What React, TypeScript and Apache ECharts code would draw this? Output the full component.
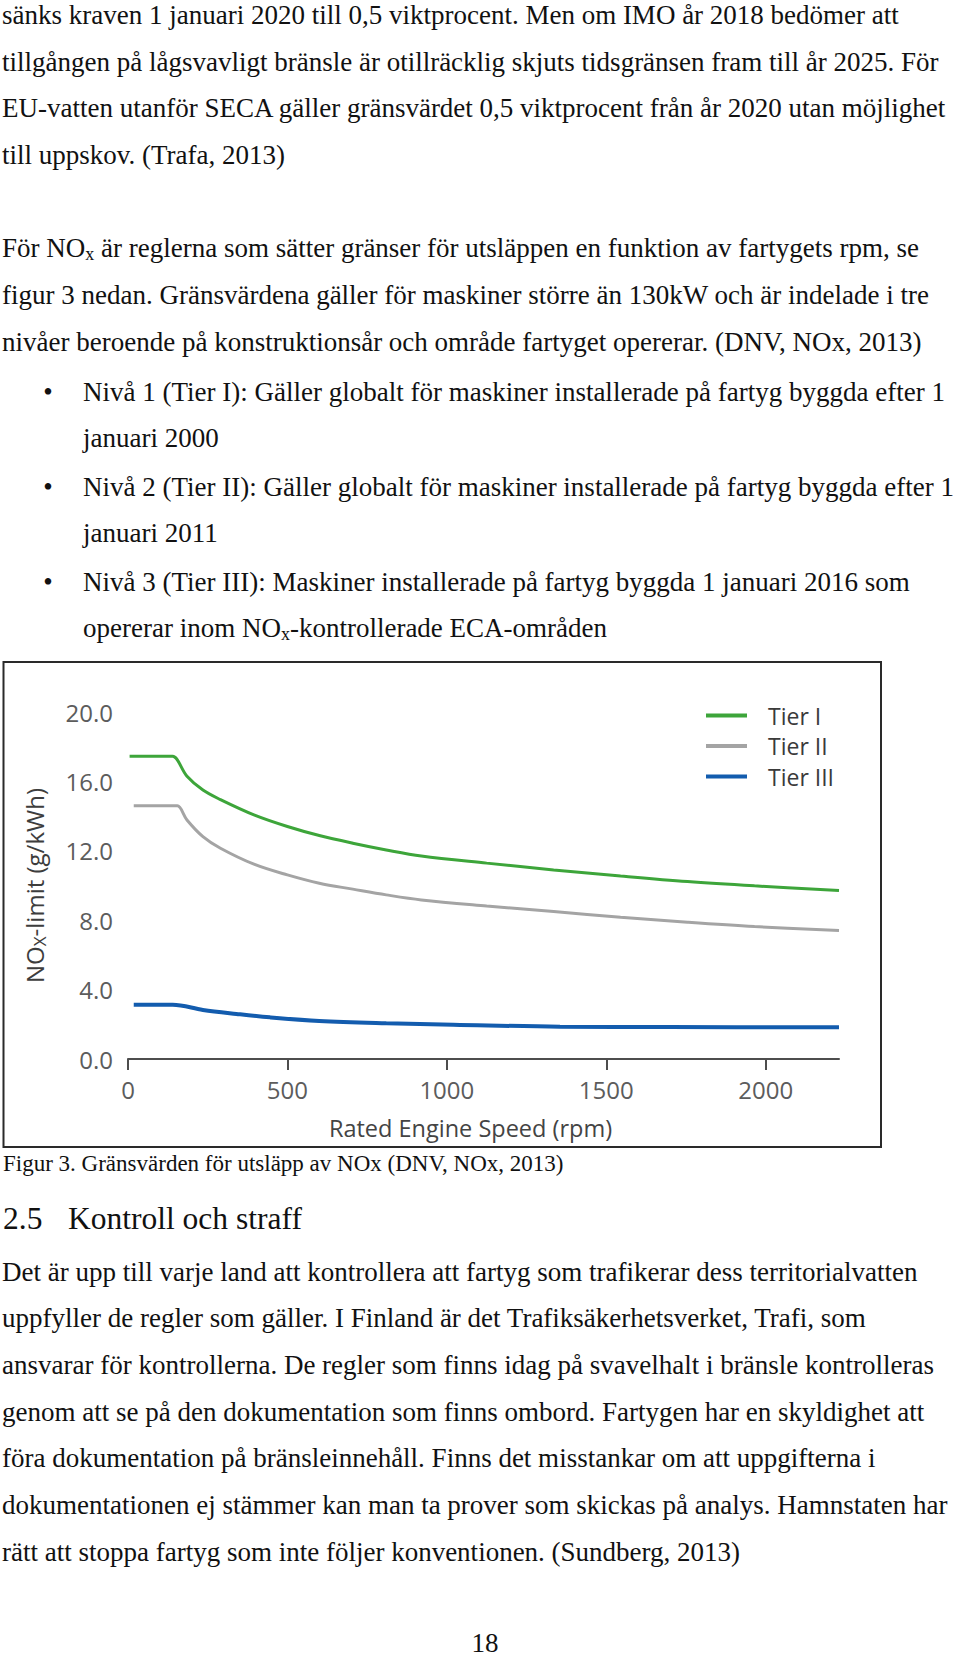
import React, { useEffect, useRef } from "react";
import * as echarts from "echarts";

// ---- Chart data ----
const tierIRpm = [5, 130, 140, 185, 235, 290, 395, 500, 600, 705, 810, 920, 1125, 1335, 1545, 1755, 1965, 2230];
const tierIVal = [17.45, 17.45, 17.45, 16.3, 15.5, 14.95, 14.07, 13.4, 12.88, 12.44, 12.05, 11.7, 11.29, 10.9, 10.55, 10.23, 9.98, 9.71];

const tierIIRpm = [18, 145, 155, 185, 235, 290, 395, 500, 600, 705, 810, 920, 1125, 1335, 1545, 1755, 1965, 2230];
const tierIIVal = [14.59, 14.59, 14.59, 13.78, 12.82, 12.15, 11.23, 10.61, 10.13, 9.79, 9.46, 9.17, 8.82, 8.5, 8.17, 7.88, 7.63, 7.4];

const tierIIIRpm = [18, 130, 140, 235, 340, 445, 600, 810, 1020, 1355, 1700, 2230];
const tierIIIVal = [3.13, 3.13, 3.13, 2.83, 2.6, 2.4, 2.19, 2.06, 1.98, 1.86, 1.84, 1.83];

const seriesNames = ["Tier I", "Tier II", "Tier III"];
const seriesColors = ["#3da53a", "#a4a4a4", "#135cae"];

const xTicks = { min: 0, max: 2230, interval: 500 };
const yTicks = { min: 0, max: 20, interval: 4 };

// ---- Page text ----
const topLines = [
  "sänks kraven 1 januari 2020 till 0,5 viktprocent. Men om IMO år 2018 bedömer att",
  "tillgången på lågsvavligt bränsle är otillräcklig skjuts tidsgränsen fram till år 2025. För",
  "EU-vatten utanför SECA gäller gränsvärdet 0,5 viktprocent från år 2020 utan möjlighet",
  "till uppskov. (Trafa, 2013)",
];
const noxLines = [
  "För NO{s|x} är reglerna som sätter gränser för utsläppen en funktion av fartygets rpm, se",
  "figur 3 nedan. Gränsvärdena gäller för maskiner större än 130kW och är indelade i tre",
  "nivåer beroende på konstruktionsår och område fartyget opererar. (DNV, NOx, 2013)",
];
const bulletLines = [
  "Nivå 1 (Tier I): Gäller globalt för maskiner installerade på fartyg byggda efter 1",
  "januari 2000",
  "Nivå 2 (Tier II): Gäller globalt för maskiner installerade på fartyg byggda efter 1",
  "januari 2011",
  "Nivå 3 (Tier III): Maskiner installerade på fartyg byggda 1 januari 2016 som",
  "opererar inom NO{s|x}-kontrollerade ECA-områden",
];
const captionText = "Figur 3. Gränsvärden för utsläpp av NOx (DNV, NOx, 2013)";
const headingNum = "2.5";
const headingText = "Kontroll och straff";
const bottomLines = [
  "Det är upp till varje land att kontrollera att fartyg som trafikerar dess territorialvatten",
  "uppfyller de regler som gäller. I Finland är det Trafiksäkerhetsverket, Trafi, som",
  "ansvarar för kontrollerna. De regler som finns idag på svavelhalt i bränsle kontrolleras",
  "genom att se på den dokumentation som finns ombord. Fartygen har en skyldighet att",
  "föra dokumentation på bränsleinnehåll. Finns det misstankar om att uppgifterna i",
  "dokumentationen ej stämmer kan man ta prover som skickas på analys. Hamnstaten har",
  "rätt att stoppa fartyg som inte följer konventionen. (Sundberg, 2013)",
];
const pageNumber = "18";

const SERIF = '"Liberation Serif", "Times New Roman", serif';
const SANS = '"Open Sans", "Noto Sans", sans-serif';

function pairs(xs: number[], ys: number[]) {
  return xs.map((x, i) => [x, ys[i]]);
}

function bodyText(text: string, x: number, y: number, extra: any = {}) {
  return {
    type: "text",
    x,
    y,
    silent: true,
    style: {
      text,
      fontSize: 27,
      fontFamily: SERIF,
      fill: "#111",
      align: "left",
      verticalAlign: "middle",
      rich: {
        s: { fontSize: 18, fontFamily: SERIF, fill: "#111", padding: [11, 0, 0, 0] },
      },
      ...extra,
    },
  };
}

export default function App() {
  const ref = useRef<HTMLDivElement>(null);

  useEffect(() => {
    if (!ref.current) return;
    const chart = echarts.init(ref.current, undefined, { renderer: "svg" });

    const topY = [15, 61.7, 108.3, 155];
    const noxY = [248.3, 295, 342];
    const bulletY = [391.5, 438, 486.5, 533, 581.5, 628];
    const bottomY = [1271.7, 1318.3, 1365, 1411.7, 1458.3, 1505, 1551.7];

    const texts: any[] = [];
    topLines.forEach((t, i) => texts.push(bodyText(t, 2, topY[i])));
    noxLines.forEach((t, i) => texts.push(bodyText(t, 2, noxY[i])));
    bulletLines.forEach((t, i) => {
      texts.push(bodyText(t, 83, bulletY[i]));
      if (i % 2 === 0) {
        texts.push(bodyText("•", 48, bulletY[i], { align: "center" }));
      }
    });
    texts.push(bodyText(captionText, 3, 1163.5, { fontSize: 23 }));
    texts.push(bodyText(headingNum, 3, 1218, { fontSize: 31.5 }));
    texts.push(bodyText(headingText, 68, 1218, { fontSize: 31.5 }));
    bottomLines.forEach((t, i) => texts.push(bodyText(t, 2, bottomY[i])));
    texts.push(bodyText(pageNumber, 485, 1643, { align: "center" }));

    // chart frame
    texts.push({
      type: "rect",
      silent: true,
      shape: { x: 3.5, y: 662, width: 877.5, height: 485 },
      style: { fill: "none", stroke: "#2a2a2a", lineWidth: 2 },
    });

    const datas = [pairs(tierIRpm, tierIVal), pairs(tierIIRpm, tierIIVal), pairs(tierIIIRpm, tierIIIVal)];

    const option: any = {
      animation: false,
      backgroundColor: "#ffffff",
      textStyle: { fontFamily: SANS },
      grid: { left: 128, top: 712, width: 711, height: 347, containLabel: false },
      xAxis: {
        type: "value",
        min: xTicks.min,
        max: xTicks.max,
        interval: xTicks.interval,
        axisLine: { show: true, lineStyle: { color: "#4d4d4d", width: 2 } },
        axisTick: { show: true, length: 11, lineStyle: { color: "#4d4d4d", width: 2 } },
        axisLabel: {
          color: "#5c5c5c",
          fontSize: 24,
          fontFamily: SANS,
          margin: 18,
          showMaxLabel: false,
          formatter: (v: number) => String(v),
        },
        splitLine: { show: false },
        name: "Rated Engine Speed (rpm)",
        nameLocation: "middle",
        nameGap: 57,
        nameTextStyle: { fontSize: 23.5, color: "#444", fontFamily: SANS, padding: [0, 26, 0, 0] },
      },
      yAxis: {
        type: "value",
        min: yTicks.min,
        max: yTicks.max,
        interval: yTicks.interval,
        axisLine: { show: false },
        axisTick: { show: false },
        splitLine: { show: false },
        axisLabel: {
          color: "#5c5c5c",
          fontSize: 24,
          fontFamily: SANS,
          margin: 15,
          formatter: (v: number) => v.toFixed(1),
        },
        name: "{n|NO}{s|X}{n|-limit (g/kWh)}",
        nameLocation: "middle",
        nameGap: 80,
        nameTextStyle: {
          rich: {
            n: { fontSize: 24, color: "#3d3d3d", fontFamily: SANS },
            s: { fontSize: 17, color: "#3d3d3d", fontFamily: SANS, padding: [10, 0, 0, 0] },
          },
        },
      },
      legend: {
        orient: "vertical",
        left: 706,
        top: 703,
        padding: 0,
        itemWidth: 41,
        itemHeight: 4,
        itemGap: 5.5,
        icon: "rect",
        data: seriesNames,
        textStyle: {
          fontSize: 23,
          color: "#3a3a3a",
          fontFamily: SANS,
          lineHeight: 25,
          padding: [0, 0, 0, 16],
        },
      },
      series: seriesNames.map((name, i) => ({
        name,
        type: "line",
        data: datas[i],
        showSymbol: false,
        symbol: "none",
        smooth: 0.35,
        color: seriesColors[i],
        lineStyle: { color: seriesColors[i], width: i === 2 ? 4 : 3 },
        itemStyle: { color: seriesColors[i] },
      })),
      graphic: { elements: texts },
    };

    chart.setOption(option);
    return () => chart.dispose();
  }, []);

  return (
    <div
      ref={ref}
      style={{ position: "absolute", left: 0, top: 0, width: 960, height: 1659, background: "#fff" }}
    />
  );
}
